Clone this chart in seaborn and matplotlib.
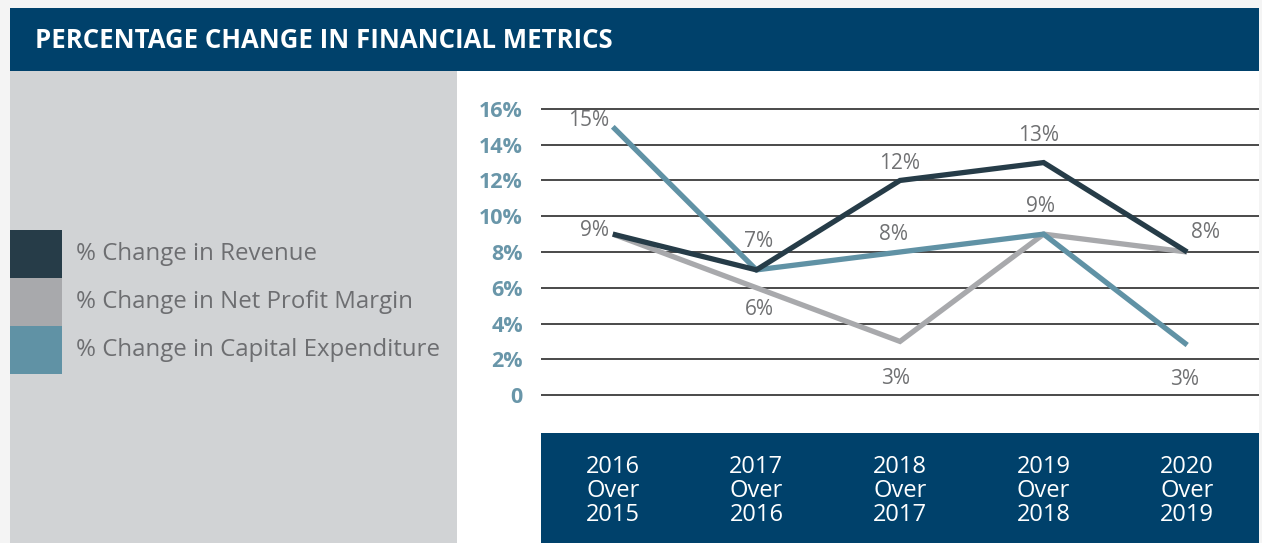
import matplotlib
matplotlib.use("Agg")
import matplotlib.pyplot as plt
from matplotlib.patches import Rectangle
import pandas as pd
import seaborn as sns

# ── Data ─────────────────────────────────────────────────────────────────────
periods = ["2016\nOver\n2015", "2017\nOver\n2016", "2018\nOver\n2017",
           "2019\nOver\n2018", "2020\nOver\n2019"]
series_names = ["% Change in Revenue", "% Change in Net Profit Margin",
                "% Change in Capital Expenditure"]
revenue = [9, 7, 12, 13, 8]
net_profit_margin = [9, 6, 3, 9, 8]
capital_expenditure = [15, 7, 8, 9, 2.8]
y_ticks = [0, 2, 4, 6, 8, 10, 12, 14, 16]
y_tick_labels = ["0", "2%", "4%", "6%", "8%", "10%", "12%", "14%", "16%"]

colors = {series_names[0]: "#263c48",
          series_names[1]: "#a8a9ac",
          series_names[2]: "#6092a5"}

df = pd.DataFrame({
    "period": periods * 3,
    "metric": [series_names[0]] * 5 + [series_names[1]] * 5 + [series_names[2]] * 5,
    "value": revenue + net_profit_margin + capital_expenditure,
})

sns.set_theme(style="white")
plt.rcParams["font.family"] = ["Open Sans", "DejaVu Sans"]

W, H = 1262, 543
fig = plt.figure(figsize=(W / 100, H / 100), dpi=100)
fig.patch.set_facecolor("#f4f4f4")

def px_rect(x0, y0, x1, y1, color, z=-1):
    # pixel box (top-left origin) -> figure fraction rectangle
    fig.patches.append(Rectangle((x0 / W, 1 - y1 / H), (x1 - x0) / W, (y1 - y0) / H,
                                 transform=fig.transFigure, color=color, zorder=z,
                                 lw=0))

# ── Panels ───────────────────────────────────────────────────────────────────
px_rect(10, 8, 1259, 71, "#00416b")          # title band
px_rect(10, 71, 457, 543, "#d1d3d5")         # legend panel
px_rect(457, 71, 1259, 543, "#ffffff")       # chart panel
px_rect(541, 433, 1259, 543, "#00416b")      # x-axis band

fig.text(35 / W, 1 - 41 / H, "PERCENTAGE CHANGE IN FINANCIAL METRICS",
         color="white", fontsize=18.5, fontweight="bold", va="center", ha="left")

# ── Legend (swatches) ────────────────────────────────────────────────────────
for i, name in enumerate(series_names):
    y0 = 230 + i * 48
    px_rect(10, y0, 62, y0 + 48, colors[name], z=1)
    fig.text(76 / W, 1 - (y0 + 24) / H, name, color="#6d6e71", fontsize=17.3,
             va="center", ha="left")

# ── Line chart ───────────────────────────────────────────────────────────────
ax = fig.add_axes([541 / W, 1 - 433 / H, (1259 - 541) / W, (433 - 71) / H])
ax.set_facecolor("none")
sns.lineplot(data=df, x="period", y="value", hue="metric",
             hue_order=[series_names[1], series_names[2], series_names[0]],
             palette=colors, linewidth=3.8, legend=False, ax=ax,
             solid_joinstyle="miter", solid_capstyle="butt")

ax.set_xlim(-0.5, 4.5)
ax.set_ylim(-2.12, 18.12)
ax.set_yticks(y_ticks)
ax.set_yticklabels(y_tick_labels)
ax.yaxis.grid(True, color="#3c3c3c", linewidth=1.3)
ax.set_axisbelow(True)
for s in ax.spines.values():
    s.set_visible(False)
ax.set_xlabel("")
ax.set_ylabel("")
ax.tick_params(axis="y", length=0, pad=13, labelsize=15.5, labelcolor="#6996a9")
for t in ax.get_yticklabels():
    t.set_fontweight("bold")
ax.tick_params(axis="x", length=0, pad=16, labelsize=17, labelcolor="white")
for t in ax.get_xticklabels():
    t.set_linespacing(1.0)

# ── Data labels ──────────────────────────────────────────────────────────────
label_specs = [  # (series values, index, dx px, dy px, ha)
    (capital_expenditure, 0, -4, 6, "right"),
    (revenue, 0, -4, 4, "right"),
    (revenue, 1, 2, 28, "center"),
    (net_profit_margin, 1, 3, -22, "center"),
    (revenue, 2, 0, 17, "center"),
    (capital_expenditure, 2, -6, 18, "center"),
    (net_profit_margin, 2, -4, -37, "center"),
    (revenue, 3, -5, 27, "center"),
    (net_profit_margin, 3, -3, 28, "center"),
    (revenue, 4, 18, 20, "center"),
    (capital_expenditure, 4, -3, -34, "center"),
]
for vals, i, dx, dy, ha in label_specs:
    ax.annotate(f"{round(vals[i])}%", (i, vals[i]), xytext=(dx, dy),
                textcoords="offset pixels", ha=ha, va="center",
                fontsize=15, color="#707173")

fig.savefig("out.png", dpi=100)
